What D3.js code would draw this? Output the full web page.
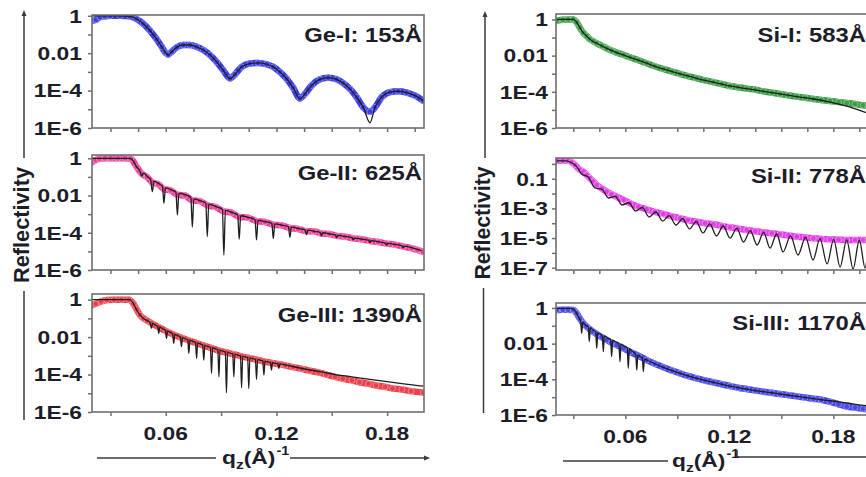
<!DOCTYPE html>
<html><head><meta charset="utf-8">
<script src="https://cdn.jsdelivr.net/npm/d3@7"></script>
<style>
html,body{margin:0;padding:0;background:#fff;overflow:hidden}
svg{display:block}
text{font-family:"Liberation Sans",Arial,Helvetica,sans-serif;font-weight:bold;fill:#1d1d2a}
</style></head><body>
<svg id="c" width="866" height="477"></svg>
<script>
// ---------- data: [q (1/Å), reflectivity] ----------
const geI_data = [[0.0198,0.55],[0.0222,0.62],[0.0243,0.85],[0.027,0.95],[0.0298,1.0],[0.0352,1.0],[0.0406,0.93],[0.0442,0.67],[0.0478,0.375],[0.0514,0.163],[0.0551,0.055],[0.0578,0.022],[0.0599,0.0105],[0.0613,0.0085],[0.0632,0.0119],[0.0659,0.0205],[0.0695,0.0274],[0.0731,0.0274],[0.0767,0.022],[0.0803,0.0147],[0.084,0.0079],[0.0876,0.0034],[0.0912,0.00121],[0.0948,0.00045],[0.0975,0.00074],[0.1011,0.00184],[0.1056,0.00279],[0.1101,0.00303],[0.1147,0.00256],[0.1183,0.00184],[0.1219,0.00099],[0.1255,0.00043],[0.1291,0.00014],[0.1327,0.000038],[0.1354,0.000066],[0.1391,0.00019],[0.1436,0.0004],[0.1481,0.00049],[0.1526,0.0004],[0.1562,0.00025],[0.1598,0.000124],[0.1635,0.000044],[0.1671,0.0000126],[0.1707,0.0000075],[0.1734,0.0000126],[0.177,0.000044],[0.1815,0.000082],[0.186,0.000092],[0.1906,0.000078],[0.1951,0.000054],[0.1996,0.000029]];
const geI_fit = [[0.0198,1.0],[0.0243,1.0],[0.0298,1.0],[0.0352,1.0],[0.0406,0.93],[0.0442,0.67],[0.0478,0.375],[0.0514,0.163],[0.0551,0.055],[0.0578,0.022],[0.0599,0.0105],[0.0613,0.0079],[0.0632,0.0119],[0.0659,0.0205],[0.0695,0.0274],[0.0731,0.0274],[0.0767,0.022],[0.0803,0.0147],[0.084,0.0079],[0.0876,0.0034],[0.0912,0.00121],[0.0948,0.00043],[0.0975,0.00074],[0.1011,0.00184],[0.1056,0.00279],[0.1101,0.00303],[0.1147,0.00256],[0.1183,0.00184],[0.1219,0.00099],[0.1255,0.00043],[0.1291,0.00014],[0.1327,0.000036],[0.1354,0.000066],[0.1391,0.00019],[0.1436,0.0004],[0.1481,0.00049],[0.1526,0.0004],[0.1562,0.00025],[0.1598,0.000124],[0.1635,0.000044],[0.1671,0.0000126],[0.1707,0.0000019],[0.1734,0.0000126],[0.177,0.000044],[0.1815,0.000082],[0.186,0.000092],[0.1906,0.000078],[0.1951,0.000054],[0.1996,0.000029]];

const geII_data = [[0.020,0.62],[0.022,0.8],[0.024,0.95],[0.027,1.0],[0.030,1.0],[0.034,1.0],[0.038,1.0],[0.041,0.95],[0.0442,0.35],[0.0469,0.15],[0.0498,0.1],[0.0527,0.05],[0.056,0.04],[0.059,0.022],[0.0626,0.019],[0.0663,0.011],[0.0704,0.01],[0.0744,0.0055],[0.0785,0.005],[0.0825,0.003],[0.087,0.0024],[0.0915,0.0014],[0.0957,0.0012],[0.0998,0.0007],[0.1045,0.00065],[0.1092,0.00042],[0.1138,0.00038],[0.1183,0.00027],[0.1228,0.00025],[0.1273,0.00018],[0.1318,0.00016],[0.1363,0.00012],[0.1403,0.00012],[0.1444,0.000092],[0.1486,0.000085],[0.1526,0.000068],[0.1571,0.000062],[0.1616,0.00005],[0.1661,0.000045],[0.1707,0.000036],[0.1752,0.000032],[0.1797,0.000026],[0.1842,0.000023],[0.1887,0.000018],[0.1932,0.000015],[0.1965,0.000012],[0.1995,0.0000095]];
const geII_fit = [[0.020,1.0],[0.030,1.0],[0.040,0.98],[0.0415,0.9],[0.0442,0.35],[0.046,0.2],[0.0469,0.11],[0.048,0.16],[0.0498,0.11],[0.0518,0.07],[0.0527,0.016],[0.0536,0.06],[0.056,0.045],[0.0582,0.03],[0.059,0.0038],[0.0598,0.026],[0.0626,0.021],[0.0655,0.015],[0.0663,0.0009],[0.0671,0.013],[0.0704,0.0112],[0.0736,0.0076],[0.0744,0.0002],[0.0752,0.0066],[0.0785,0.0053],[0.0817,0.0039],[0.0825,0.000062],[0.0833,0.0034],[0.087,0.0026],[0.0907,0.0018],[0.0915,0.0000064],[0.0923,0.0016],[0.0957,0.00125],[0.099,0.0009],[0.0998,0.000044],[0.1006,0.00082],[0.1045,0.00068],[0.1084,0.0005],[0.1092,0.000041],[0.11,0.00046],[0.1138,0.0004],[0.1175,0.00032],[0.1183,0.000048],[0.1191,0.0003],[0.1228,0.00026],[0.1265,0.00021],[0.1273,0.000057],[0.1281,0.0002],[0.1318,0.00017],[0.1355,0.000145],[0.1363,0.00008],[0.1371,0.00014],[0.1403,0.00012],[0.1437,0.000105],[0.1444,0.000067],[0.1452,0.0001],[0.1486,0.000088],[0.152,0.000076],[0.1526,0.000054],[0.1533,0.000072],[0.1571,0.000064],[0.161,0.000055],[0.1616,0.000042],[0.1623,0.000052],[0.1661,0.000046],[0.17,0.00004],[0.1707,0.00003],[0.1714,0.000038],[0.1752,0.000033],[0.179,0.000028],[0.1797,0.000022],[0.1804,0.000027],[0.1842,0.000024],[0.188,0.00002],[0.1887,0.000016],[0.1894,0.000019],[0.1932,0.000016],[0.1986,0.000011]];

const geIII_data = [[0.020,0.5],[0.022,0.6],[0.025,0.8],[0.028,0.95],[0.032,1.0],[0.036,1.0],[0.040,1.0],[0.0425,0.6],[0.0442,0.3],[0.046,0.15],[0.048,0.1],[0.050,0.075],[0.0522,0.055],[0.0562,0.034],[0.0604,0.02],[0.0643,0.0135],[0.0685,0.0092],[0.0725,0.0066],[0.0767,0.0048],[0.0806,0.0035],[0.0848,0.0026],[0.0888,0.0019],[0.0929,0.0015],[0.0969,0.0012],[0.1011,0.00093],[0.105,0.00077],[0.1092,0.00062],[0.1132,0.0005],[0.1173,0.00042],[0.1213,0.00036],[0.1247,0.00031],[0.129,0.00025],[0.1338,0.0002],[0.138,0.00016],[0.1428,0.00013],[0.147,0.0001],[0.1518,0.000075],[0.156,0.00006],[0.1609,0.000049],[0.165,0.000039],[0.1699,0.000032],[0.174,0.000026],[0.1789,0.000022],[0.183,0.000018],[0.188,0.000016],[0.193,0.000013],[0.1997,0.000011]];
const geIII_fit = [[0.020,1.0],[0.030,1.0],[0.0405,1.0],[0.0425,0.6],[0.0442,0.28],[0.0478,0.1],[0.0505,0.07],[0.0515,0.06],[0.0522,0.029],[0.0529,0.055],[0.0542,0.045],[0.0556,0.037],[0.0562,0.016],[0.0568,0.035],[0.0583,0.028],[0.0598,0.023],[0.0604,0.0085],[0.061,0.021],[0.0624,0.018],[0.0637,0.015],[0.0643,0.0046],[0.0649,0.014],[0.0664,0.012],[0.0679,0.0098],[0.0685,0.0031],[0.0691,0.0094],[0.0705,0.0082],[0.0719,0.007],[0.0725,0.00134],[0.0731,0.0068],[0.0746,0.006],[0.0761,0.0051],[0.0767,0.00073],[0.0773,0.0049],[0.0787,0.0043],[0.08,0.0037],[0.0806,0.00059],[0.0812,0.0036],[0.0827,0.0032],[0.0842,0.0028],[0.0848,0.000115],[0.0854,0.0027],[0.0868,0.0024],[0.0882,0.0021],[0.0888,0.000076],[0.0894,0.002],[0.0908,0.0018],[0.0923,0.0016],[0.0929,0.0000106],[0.0935,0.00156],[0.0949,0.0014],[0.0963,0.00126],[0.0969,0.000076],[0.0975,0.00122],[0.099,0.0011],[0.1005,0.00099],[0.1011,0.00002],[0.1017,0.00096],[0.103,0.00088],[0.1044,0.0008],[0.105,0.000018],[0.1056,0.00078],[0.1071,0.0007],[0.1086,0.00065],[0.1092,0.000055],[0.1098,0.00063],[0.1112,0.00058],[0.1126,0.00053],[0.1132,0.000093],[0.1138,0.00051],[0.1152,0.00047],[0.1167,0.00044],[0.1173,0.000173],[0.1179,0.00043],[0.1193,0.0004],[0.1207,0.00038],[0.1213,0.00021],[0.1219,0.00037],[0.1247,0.00033],[0.1338,0.00021],[0.1428,0.000147],[0.1518,0.0001],[0.1609,0.000076],[0.1699,0.000057],[0.1789,0.000043],[0.188,0.000033],[0.1997,0.000024]];

const siI_data = [[0.0204,0.85],[0.024,0.95],[0.027,1.0],[0.030,1.0],[0.0319,0.7],[0.0338,0.35],[0.0358,0.18],[0.0377,0.12],[0.0396,0.08],[0.0415,0.062],[0.0435,0.048],[0.0464,0.035],[0.0493,0.025],[0.052,0.019],[0.055,0.0146],[0.059,0.011],[0.0627,0.0081],[0.0675,0.0056],[0.0723,0.0038],[0.077,0.0026],[0.0819,0.00183],[0.087,0.0013],[0.0916,0.00097],[0.096,0.00074],[0.1012,0.00056],[0.106,0.00043],[0.1108,0.00034],[0.1156,0.00027],[0.1204,0.00021],[0.125,0.00018],[0.13,0.00015],[0.135,0.00013],[0.1396,0.000107],[0.1445,0.00009],[0.1493,0.000076],[0.154,0.000064],[0.1589,0.000054],[0.1637,0.000047],[0.1685,0.00004],[0.173,0.000035],[0.1781,0.000031],[0.183,0.000027],[0.1877,0.000024],[0.1925,0.000021],[0.1973,0.000018],[0.2,0.000017]];
const siI_fit = [[0.0204,1.0],[0.027,1.0],[0.030,1.0],[0.0319,0.7],[0.0338,0.35],[0.0358,0.18],[0.0377,0.12],[0.0396,0.08],[0.0435,0.048],[0.0493,0.025],[0.055,0.0146],[0.0627,0.0081],[0.0723,0.0038],[0.0819,0.00183],[0.0916,0.00097],[0.1012,0.00056],[0.1108,0.00034],[0.1204,0.00021],[0.13,0.00015],[0.1396,0.000107],[0.1493,0.000076],[0.1589,0.000054],[0.1685,0.00004],[0.1781,0.000027],[0.1877,0.000016],[0.1973,0.000008],[0.2,0.0000065]];

const siII_data = [[0.0204,1.6],[0.024,1.65],[0.027,1.6],[0.029,1.3],[0.031,0.84],[0.0338,0.4],[0.0358,0.3],[0.0377,0.18],[0.0396,0.107],[0.0415,0.065],[0.0435,0.038],[0.0464,0.022],[0.0493,0.0134],[0.052,0.0092],[0.055,0.0061],[0.059,0.0038],[0.0627,0.0022],[0.0675,0.0013],[0.0723,0.00087],[0.077,0.00058],[0.0819,0.00042],[0.087,0.00029],[0.0916,0.000215],[0.096,0.00016],[0.1012,0.000127],[0.106,0.0001],[0.1108,0.000085],[0.1156,0.000066],[0.1204,0.000053],[0.125,0.000043],[0.13,0.000035],[0.135,0.000029],[0.1396,0.0000244],[0.1445,0.000021],[0.1493,0.0000179],[0.154,0.000015],[0.1589,0.0000123],[0.1637,0.0000108],[0.1685,0.0000096],[0.173,0.0000088],[0.1781,0.0000082],[0.183,0.0000078],[0.1877,0.0000074],[0.1925,0.0000074],[0.1973,0.0000074],[0.2,0.0000074]];
const siII_fit = [[0.020,1.6],[0.026,1.6],[0.029,1.2],[0.031,0.84],[0.033,0.45],[0.0347,0.21],[0.0386,0.13],[0.0425,0.0237],[0.0464,0.02],[0.0503,0.005],[0.0542,0.0065],[0.0581,0.0017],[0.062,0.0024],[0.0659,0.00067],[0.0698,0.00115],[0.0737,0.00026],[0.0776,0.00057],[0.0815,0.00014],[0.0853,0.00033],[0.0892,0.000076],[0.0931,0.0002],[0.097,0.000041],[0.1009,0.000129],[0.1048,0.000022],[0.1087,0.000089],[0.1126,0.0000137],[0.1165,0.000065],[0.1204,0.00001],[0.1243,0.000045],[0.1282,0.0000054],[0.1321,0.000032],[0.136,0.0000034],[0.1398,0.000024],[0.1435,0.0000021],[0.1473,0.0000187],[0.151,0.00000115],[0.1553,0.0000142],[0.1596,0.00000072],[0.164,0.000011],[0.1683,0.00000033],[0.1723,0.0000092],[0.1764,0.00000018],[0.1802,0.0000082],[0.1839,0.00000011],[0.1877,0.0000076],[0.1914,0.000000082],[0.195,0.0000074],[0.1983,0.000000095],[0.2,0.000002]];

const siIII_data = [[0.0204,0.77],[0.024,0.8],[0.027,0.8],[0.030,0.77],[0.0319,0.5],[0.0338,0.25],[0.0358,0.138],[0.0377,0.09],[0.0396,0.063],[0.0415,0.046],[0.0435,0.0347],[0.0464,0.023],[0.0493,0.016],[0.052,0.0115],[0.055,0.0084],[0.059,0.0055],[0.0627,0.0035],[0.0675,0.0021],[0.0723,0.0012],[0.077,0.00075],[0.0819,0.00047],[0.087,0.00031],[0.0916,0.000216],[0.096,0.000155],[0.1012,0.000113],[0.106,0.000086],[0.1108,0.000068],[0.1156,0.000053],[0.1204,0.000042],[0.125,0.000034],[0.13,0.0000286],[0.135,0.000024],[0.1396,0.0000203],[0.1445,0.0000175],[0.1493,0.000015],[0.154,0.000013],[0.1589,0.0000111],[0.1637,0.0000095],[0.1685,0.0000082],[0.173,0.0000072],[0.1781,0.0000055],[0.183,0.000004],[0.1877,0.000003],[0.1925,0.0000026],[0.1973,0.0000022],[0.2,0.0000021]];
const siIII_fit = [[0.020,0.95],[0.029,0.95],[0.0305,0.8],[0.0319,0.5],[0.0334,0.26],[0.0342,0.19],[0.0348,0.038],[0.0354,0.15],[0.037,0.11],[0.0386,0.088],[0.0392,0.0129],[0.0398,0.076],[0.0414,0.058],[0.0429,0.046],[0.0435,0.0055],[0.0441,0.04],[0.0454,0.034],[0.0467,0.029],[0.0473,0.00355],[0.0479,0.027],[0.0497,0.021],[0.0515,0.017],[0.0521,0.00186],[0.0527,0.0152],[0.0545,0.0123],[0.0563,0.01],[0.0569,0.00098],[0.0575,0.0091],[0.0593,0.0073],[0.0611,0.0058],[0.0617,0.00041],[0.0623,0.0052],[0.0642,0.0036],[0.066,0.0025],[0.0666,0.00033],[0.0672,0.0022],[0.0685,0.0019],[0.0698,0.0016],[0.0704,0.00027],[0.071,0.0014],[0.0723,0.00121],[0.0819,0.00047],[0.0916,0.000216],[0.1012,0.000113],[0.1108,0.000068],[0.1204,0.000042],[0.13,0.0000286],[0.1396,0.0000203],[0.1493,0.000015],[0.1589,0.0000111],[0.1685,0.0000082],[0.1781,0.0000063],[0.1877,0.0000047],[0.1973,0.0000035],[0.2,0.0000033]];

// ---------- tick labels ----------
const yTickValsEven = [1, 1e-2, 1e-4, 1e-6];
const yTickTextEven = ["1", "0.01", "1E-4", "1E-6"];
const yTickValsOdd = [1e-1, 1e-3, 1e-5, 1e-7];
const yTickTextOdd = ["0.1", "1E-3", "1E-5", "1E-7"];
const xTickVals = [0.06, 0.12, 0.18];
const xTickText = ["0.06", "0.12", "0.18"];
const panelNames = ["Ge-I: 153Å", "Ge-II: 625Å", "Ge-III: 1390Å", "Si-I: 583Å", "Si-II: 778Å", "Si-III: 1170Å"];
const yTitle = "Reflectivity";

// ---------- layout ----------
const svg = d3.select("#c");
const L = {x0: 92, x1: 424}, R = {x0: 556, x1: 868};
const panels = [
  {name: panelNames[0], data: geI_data, fit: geI_fit, color: "#3c3fe2", light: "#9294f7", ...L, y0: 15, y1: 128, yd: [1e-6, 1.1], yv: yTickValsEven, yt: yTickTextEven, bottom: false, ly: 26.5, lpad: 10},
  {name: panelNames[1], data: geII_data, fit: geII_fit, color: "#ec3f97", light: "#f8a0cc", ...L, y0: 155, y1: 270, yd: [1e-6, 1.5], yv: yTickValsEven, yt: yTickTextEven, bottom: false, ly: 25, lpad: 10},
  {name: panelNames[2], data: geIII_data, fit: geIII_fit, color: "#e8404c", light: "#f59aa0", ...L, y0: 294, y1: 412, yd: [1e-6, 2.0], yv: yTickValsEven, yt: yTickTextEven, bottom: true, ly: 27.5, lpad: 10},
  {name: panelNames[3], data: siI_data, fit: siI_fit, color: "#3d9a47", light: "#92d29a", ...R, y0: 14, y1: 128, yd: [1e-6, 2.0], yv: yTickValsEven, yt: yTickTextEven, bottom: false, ly: 27.5, lpad: 8},
  {name: panelNames[4], data: siII_data, fit: siII_fit, color: "#e13ee4", light: "#f4a4f5", ...R, y0: 158, y1: 270, yd: [7e-8, 2.5], yv: yTickValsOdd, yt: yTickTextOdd, bottom: false, ly: 25, lpad: 8},
  {name: panelNames[5], data: siIII_data, fit: siIII_fit, color: "#4748e8", light: "#a0a0f7", ...R, y0: 303, y1: 415, yd: [1e-6, 1.9], yv: yTickValsEven, yt: yTickTextEven, bottom: true, ly: 27, lpad: 8},
];

function stretch(sel, k) {
  sel.each(function () {
    const n = this.getComputedTextLength();
    this.setAttribute("textLength", n * k);
    this.setAttribute("lengthAdjust", "spacingAndGlyphs");
  });
}

const FRAME = "#6f6f6f";
panels.forEach((p, i) => {
  const x = d3.scaleLinear().domain([0.02, 0.20]).range([p.x0, p.x1]);
  const y = d3.scaleLog().domain(p.yd).range([p.y1, p.y0]);
  const g = svg.append("g");
  const cid = "clip" + i;
  svg.append("clipPath").attr("id", cid).append("rect")
    .attr("x", p.x0).attr("y", p.y0).attr("width", p.x1 - p.x0).attr("height", p.y1 - p.y0);
  const pg = g.append("g").attr("clip-path", `url(#${cid})`);
  const line = d3.line().x(d => x(d[0])).y(d => y(d[1])).curve(d3.curveMonotoneX);
  pg.append("path").attr("d", line(p.data)).attr("fill", "none")
    .attr("stroke", p.color).attr("stroke-width", 6.5).attr("stroke-linejoin", "round").attr("stroke-linecap", "round");
  pg.selectAll("circle").data(p.data).join("circle")
    .attr("cx", d => x(d[0])).attr("cy", d => y(d[1])).attr("r", 3)
    .attr("fill", p.color).attr("stroke", p.light).attr("stroke-width", 0.8);
  pg.append("path").attr("d", line(p.fit)).attr("fill", "none")
    .attr("stroke", "#1e1e1e").attr("stroke-width", 1.3).attr("stroke-linejoin", "round");

  // frame
  g.append("rect").attr("x", p.x0).attr("y", p.y0).attr("width", p.x1 - p.x0).attr("height", p.y1 - p.y0)
    .attr("fill", "none").attr("stroke", FRAME).attr("stroke-width", 1.6);

  // y ticks at every decade
  const lo = Math.ceil(Math.log10(p.yd[0]) - 1e-9), hi = Math.floor(Math.log10(p.yd[1]) + 1e-9);
  const decades = d3.range(lo, hi + 1).map(e => Math.pow(10, e));
  const ya = g.append("g").attr("transform", `translate(${p.x0},0)`)
    .call(d3.axisLeft(y).tickValues(decades).tickSize(4).tickFormat(""));
  ya.select(".domain").remove();
  ya.selectAll("line").attr("stroke", FRAME).attr("stroke-width", 1.5);

  // x ticks
  const step = p.bottom ? 0.03 : 0.015;
  const xt = d3.range(0.03, 0.1999, step);
  const xa = g.append("g").attr("transform", `translate(0,${p.y1})`)
    .call(d3.axisBottom(x).tickValues(xt).tickSize(4).tickFormat(""));
  xa.select(".domain").remove();
  xa.selectAll("line").attr("stroke", FRAME).attr("stroke-width", 1.5);

  // y tick labels
  const yl = g.selectAll(".yl").data(p.yv).join("text")
    .attr("x", p.x0 - p.lpad).attr("y", d => y(d)).attr("dy", "0.36em")
    .attr("text-anchor", "end").attr("font-size", 19)
    .text((d, j) => p.yt[j]);
  stretch(yl, 1.2);

  if (p.bottom) {
    const xl = g.selectAll(".xl").data(xTickVals).join("text")
      .attr("x", d => x(d)).attr("y", p.y1 + 28)
      .attr("text-anchor", "middle").attr("font-size", 19)
      .text((d, j) => xTickText[j]);
    stretch(xl, 1.2);
  }

  const nm = g.append("text").attr("x", p.x1 - 2).attr("y", p.y0 + p.ly)
    .attr("text-anchor", "end").attr("font-size", 20).text(p.name);
  stretch(nm, 1.19);
});

// ---------- decorative axis arrows ----------
const AX = "#3a3a3a";
function seg(pts) {
  svg.append("path").attr("d", d3.line()(pts)).attr("fill", "none").attr("stroke", AX).attr("stroke-width", 1.5);
}
function arrowUp(cx, ty) {
  svg.append("path").attr("d", `M${cx},${ty} L${cx - 2.5},${ty + 6} L${cx + 2.5},${ty + 6} Z`).attr("fill", AX);
}
function arrowRight(tx, cy) {
  svg.append("path").attr("d", `M${tx},${cy} L${tx - 6},${cy - 2.5} L${tx - 6},${cy + 2.5} Z`).attr("fill", AX);
}
seg([[24, 14], [24, 158]]); seg([[24, 291], [24, 420]]); arrowUp(24, 10);
seg([[485, 15], [485, 158]]); seg([[483.5, 288], [483.5, 413]]); arrowUp(485, 11);
seg([[97, 458], [216, 458]]); seg([[290, 458], [425, 458]]); arrowRight(430, 458);
seg([[563, 461], [668, 461]]); seg([[737, 450], [737, 457], [870, 457]]);

// ---------- axis titles ----------
[[29, 225, 116], [490, 223, 113]].forEach(([tx, ty, len]) => {
  svg.append("text").attr("transform", `translate(${tx},${ty}) scale(1.2,1) rotate(-90)`)
    .attr("text-anchor", "middle").attr("font-size", 19)
    .attr("textLength", len).attr("lengthAdjust", "spacingAndGlyphs").text(yTitle);
});
[[222, 464], [672, 467]].forEach(([tx, ty]) => {
  const t = svg.append("text").attr("transform", `translate(${tx},${ty}) scale(1.2,1)`).attr("font-size", 19);
  t.append("tspan").text("q");
  t.append("tspan").attr("font-size", 13).attr("dy", 5).text("z");
  t.append("tspan").attr("dy", -5).text("(Å)");
  t.append("tspan").attr("font-size", 12).attr("dy", -9).attr("dx", 1).text("-1");
});
</script>
</body></html>
